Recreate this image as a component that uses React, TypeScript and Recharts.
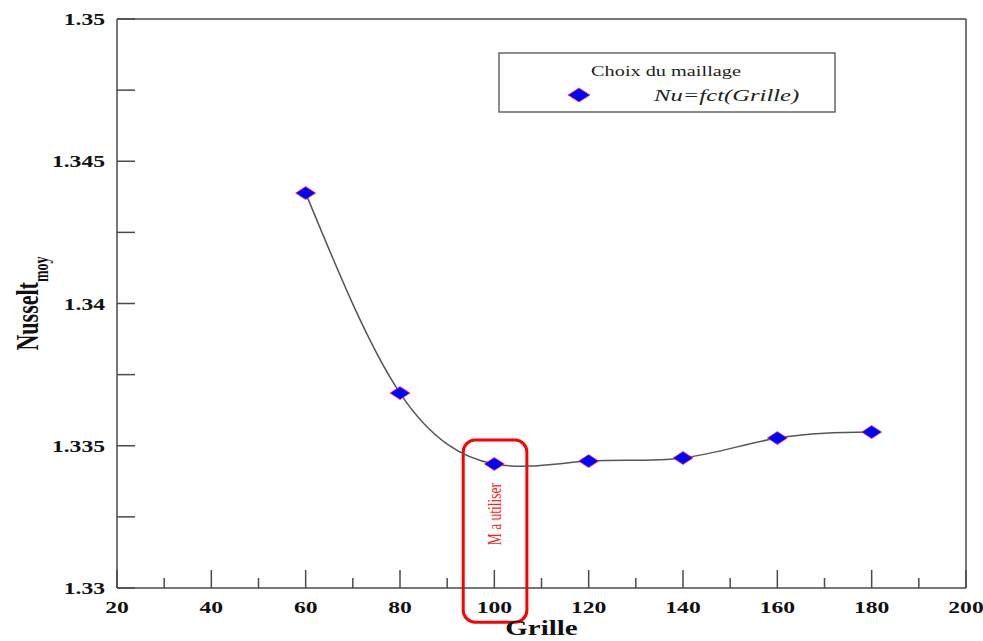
import React from 'react';
import { LineChart, Line, XAxis, YAxis, ReferenceLine, ReferenceArea, Legend } from 'recharts';

const grille = [60, 80, 100, 120, 140, 160, 180];
const nusselt = [1.34388, 1.33685, 1.33436, 1.33446, 1.33457, 1.33527, 1.33548];
const xTicks = [20, 30, 40, 50, 60, 70, 80, 90, 100, 110, 120, 130, 140, 150, 160, 170, 180, 190, 200];
const xLabelTicks = [20, 40, 60, 80, 100, 120, 140, 160, 180, 200];
const yTicks = [1.33, 1.3325, 1.335, 1.3375, 1.34, 1.3425, 1.345, 1.3475, 1.35];
const yLabelTicks = [1.33, 1.335, 1.34, 1.345, 1.35];
const highlightX = [93.4, 106.9];
const highlightY = [1.3288, 1.3352];
const seriesName = 'Nu=fct(Grille)';
const legendTitle = 'Choix du maillage';
const highlightText = 'M a utiliser';

const data = grille.map((g, i) => ({ grille: g, nu: nusselt[i] }));

const FONT = "'Liberation Serif', 'Times New Roman', Times, serif";
const SX = 1.45;
const TSX = 1.35;
const FRAME = '#4a4a4a';

const isMajor = (v: number, list: number[]) => list.some((t) => Math.abs(t - v) < 1e-9);

const XTick = (props: any) => {
  const { x, y, payload } = props;
  const axisY = y - 4;
  const major = isMajor(payload.value, xLabelTicks);
  return (
    <g>
      <line x1={x} x2={x} y1={axisY} y2={axisY - (major ? 18 : 10)} stroke={FRAME} strokeWidth={1.5} />
      {major && (
        <text
          transform={`translate(${x},${axisY + 25}) scale(${TSX},1)`}
          textAnchor="middle"
          style={{ fontFamily: FONT, fontWeight: 'bold', fontSize: 17.5 }}
          fill="#111"
        >
          {payload.value}
        </text>
      )}
    </g>
  );
};

const YTick = (props: any) => {
  const { x, y, payload } = props;
  const axisX = x + 4;
  const major = isMajor(payload.value, yLabelTicks);
  return (
    <g>
      <line x1={axisX} x2={axisX + 18} y1={y} y2={y} stroke={FRAME} strokeWidth={1.5} />
      {major && (
        <text
          transform={`translate(${axisX - 12},${y + 6}) scale(${TSX},1)`}
          textAnchor="end"
          style={{ fontFamily: FONT, fontWeight: 'bold', fontSize: 17.5 }}
          fill="#111"
        >
          {String(payload.value)}
        </text>
      )}
    </g>
  );
};

const Diamond = (props: any) => {
  const { cx, cy } = props;
  if (cx == null || cy == null) return null;
  const w = 10;
  const h = 6.5;
  return (
    <path
      d={`M${cx - w},${cy} L${cx},${cy - h} L${cx + w},${cy} L${cx},${cy + h} Z`}
      fill="#0000ff"
      stroke="#ff3366"
      strokeWidth={0.8}
    />
  );
};

const HighlightShape = (props: any) => {
  const { x, y, width, height } = props;
  const cx = x + width / 2 + 1;
  const cy = y + 74;
  return (
    <g>
      <rect x={x} y={y} width={width} height={height} rx={12} ry={12} fill="none" stroke="#ff0000" strokeWidth={3} />
      <text
        transform={`translate(${cx + 5},${cy}) scale(${SX},1) rotate(-90)`}
        textAnchor="middle"
        style={{ fontFamily: FONT, fontSize: 13.5 }}
        fill="#ff2020"
      >
        {highlightText}
      </text>
    </g>
  );
};

const LegendBox = () => (
  <svg width={338} height={61} style={{ display: 'block' }}>
    <rect x={1} y={1} width={336} height={59} fill="#fff" stroke="#666" strokeWidth={1.5} />
    <text
      transform={`translate(168,24) scale(${SX},1)`}
      textAnchor="middle"
      style={{ fontFamily: FONT, fontSize: 14 }}
      fill="#222"
    >
      {legendTitle}
    </text>
    <path d="M70,43 L81,36 L92,43 L81,50 Z" fill="#0000ff" stroke="#ff3366" strokeWidth={0.8} />
    <text
      transform={`translate(156,49) scale(${SX},1)`}
      textAnchor="start"
      style={{ fontFamily: FONT, fontSize: 17, fontStyle: 'italic' }}
      fill="#222"
    >
      {seriesName}
    </text>
  </svg>
);

const YLabel = (props: any) => {
  const vb = props.viewBox || {};
  const cy = (vb.y || 0) + (vb.height || 0) / 2;
  return (
    <text
      transform={`translate(38,${cy}) scale(${SX},1) rotate(-90)`}
      textAnchor="middle"
      style={{ fontFamily: FONT, fontWeight: 'bold', fontSize: 22 }}
      fill="#111"
    >
      Nusselt
      <tspan style={{ fontSize: 14 }} dy={7}>moy</tspan>
    </text>
  );
};

const XLabel = (props: any) => {
  const vb = props.viewBox || {};
  const cx = (vb.x || 0) + (vb.width || 0) / 2;
  return (
    <text
      transform={`translate(${cx},635) scale(${SX},1)`}
      textAnchor="middle"
      style={{ fontFamily: FONT, fontWeight: 'bold', fontSize: 20 }}
      fill="#111"
    >
      Grille
    </text>
  );
};

export default function App() {
  return (
    <div style={{ position: 'absolute', left: 0, top: 0, background: '#fff' }}>
      <LineChart width={983} height={641} data={data} margin={{ top: 19, right: 17, bottom: 0, left: 0 }}>
        <XAxis
          dataKey="grille"
          type="number"
          domain={[20, 200]}
          ticks={xTicks}
          interval={0}
          height={53}
          tickSize={0}
          tickMargin={4}
          tickLine={false}
          axisLine={{ stroke: FRAME, strokeWidth: 1.5 }}
          tick={<XTick />}
          label={<XLabel />}
          allowDataOverflow
        />
        <YAxis
          type="number"
          domain={[1.33, 1.35]}
          ticks={yTicks}
          interval={0}
          width={117}
          tickSize={0}
          tickMargin={4}
          tickLine={false}
          axisLine={{ stroke: FRAME, strokeWidth: 1.5 }}
          tick={<YTick />}
          label={<YLabel />}
          allowDataOverflow
        />
        <ReferenceLine y={1.35} stroke={FRAME} strokeWidth={1.5} />
        <ReferenceLine x={200} stroke={FRAME} strokeWidth={1.5} />
        <ReferenceArea
          x1={highlightX[0]}
          x2={highlightX[1]}
          y1={highlightY[0]}
          y2={highlightY[1]}
          ifOverflow="visible"
          shape={<HighlightShape />}
        />
        <Legend
          layout="vertical"
          align="center"
          verticalAlign="middle"
          wrapperStyle={{ left: 498, top: 52, width: 338, height: 61 }}
          content={<LegendBox />}
        />
        <Line
          type="natural"
          dataKey="nu"
          name={seriesName}
          stroke="#555"
          strokeWidth={1.5}
          dot={<Diamond />}
          activeDot={false}
          isAnimationActive={false}
        />
      </LineChart>
    </div>
  );
}
